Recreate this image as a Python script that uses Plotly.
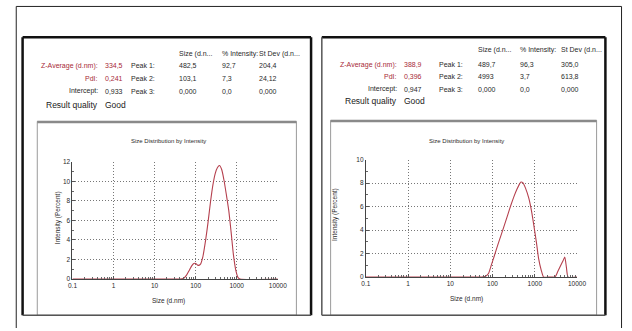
import plotly.graph_objects as go

W, H = 632, 331

# ---------------- data ----------------
sizes_a = [0.1, 1, 10, 40, 50, 60, 70, 80, 90, 100, 115, 130, 150, 175, 200, 230, 260,
           300, 340, 380, 430, 490, 560, 640, 730, 830, 950, 1080, 1200, 10000]
intensity_a = [0, 0, 0, 0, 0.05, 0.4, 0.9, 1.35, 1.6, 1.6, 1.4, 1.5, 2.3, 4.0, 5.8, 7.9, 9.5,
               10.8, 11.4, 11.6, 11.2, 10.1, 8.6, 7.0, 4.8, 2.5, 0.9, 0.15, 0, 0]

sizes_b = [0.1, 1, 10, 50, 60, 70, 80, 93, 110, 132, 160, 190, 229, 270, 324, 380, 430, 470,
           520, 600, 724, 850, 950, 1100, 1230, 1420, 1620, 2000, 2600, 3000, 3500, 4100,
           4700, 5130, 5600, 6170, 10000]
intensity_b = [0, 0, 0, 0, 0.02, 0.1, 0.3, 1.0, 1.8, 2.7, 3.6, 4.4, 5.3, 6.1, 6.9, 7.5, 7.9, 8.1,
               8.05, 7.6, 6.7, 5.5, 4.4, 2.9, 1.6, 0.6, 0, 0, 0, 0, 0.47, 0.98, 1.42, 1.7, 0.85, 0, 0]

x_tick_vals = [0.1, 1, 10, 100, 1000, 10000]
x_tick_text = ["0.1", "1", "10", "100", "1000", "10000"]
y_ticks_a = [0, 2, 4, 6, 8, 10, 12]
y_ticks_b = [0, 2, 4, 6, 8, 10]

header_cols = ["Size (d.n...", "% Intensity:", "St Dev (d.n..."]
peak_labels = ["Peak 1:", "Peak 2:", "Peak 3:"]
left_labels = ["Z-Average (d.nm):", "PdI:", "Intercept:"]

summary_a = ["334,5", "0,241", "0,933"]
peaks_a = [["482,5", "92,7", "204,4"], ["103,1", "7,3", "24,12"], ["0,000", "0,0", "0,000"]]
summary_b = ["388,9", "0,396", "0,947"]
peaks_b = [["489,7", "96,3", "305,0"], ["4993", "3,7", "613,8"], ["0,000", "0,0", "0,000"]]

chart_title = "Size Distribution by Intensity"
x_title = "Size (d.nm)"
y_title = "Intensity (Percent)"

# ---------------- helpers ----------------
def px(x):
    return x / W

def py(y):
    return 1 - y / H

RED = "#a82a38"
TXT = "#2a2a2a"
CURVE = "#b5404e"
FONT = "Liberation Sans Narrow, Liberation Sans, Arial, sans-serif"

fig = go.Figure()
fig.add_trace(go.Scatter(x=sizes_a, y=intensity_a, mode="lines", xaxis="x", yaxis="y",
                         line=dict(color=CURVE, width=1.1, shape="spline", smoothing=0.6),
                         showlegend=False, hoverinfo="skip"))
fig.add_trace(go.Scatter(x=sizes_b, y=intensity_b, mode="lines", xaxis="x2", yaxis="y2",
                         line=dict(color=CURVE, width=1.1, shape="spline", smoothing=0.6),
                         showlegend=False, hoverinfo="skip"))

minor_x = [m * 10 ** e for e in range(-1, 4) for m in range(2, 10)]

def xaxis(dom, anchor):
    return dict(type="log", domain=dom, anchor=anchor, range=[-1, 4.0005],
                tickmode="array", tickvals=x_tick_vals, ticktext=x_tick_text,
                ticks="inside", ticklen=3, tickcolor="#555", tickwidth=0.8,
                showline=True, linecolor="#444", linewidth=1,
                showgrid=True, gridcolor="#777", griddash="1px,2px", gridwidth=1,
                zeroline=False, tickfont=dict(family=FONT, size=6.5, color=TXT),
                minor=dict(tickmode="array", tickvals=minor_x, ticks="inside", ticklen=2,
                           tickcolor="#666", showgrid=False))

def yaxis(dom, anchor, top, ticks):
    return dict(domain=dom, anchor=anchor, range=[0, top * 1.0005],
                tickmode="array", tickvals=ticks,
                ticks="inside", ticklen=3, tickcolor="#555", tickwidth=0.8,
                showline=True, linecolor="#444", linewidth=1,
                showgrid=True, gridcolor="#777", griddash="1px,2px", gridwidth=1,
                zeroline=False, tickfont=dict(family=FONT, size=6.5, color=TXT),
                minor=dict(dtick=1, ticks="inside", ticklen=2, tickcolor="#666", showgrid=False))

fig.update_layout(
    width=W, height=H, margin=dict(l=0, r=0, t=0, b=0),
    paper_bgcolor="white", plot_bgcolor="white",
    xaxis=xaxis([px(69), px(279)], "y"),
    yaxis=yaxis([py(281), py(161)], "x", 12, y_ticks_a),
    xaxis2=xaxis([px(369), px(585)], "y2"),
    yaxis2=yaxis([py(279), py(159)], "x2", 10, y_ticks_b),
)

shapes = []
def rect(x0, y0, x1, y1, color, width):
    shapes.append(dict(type="rect", xref="paper", yref="paper",
                       x0=px(x0), x1=px(x1), y0=py(y1), y1=py(y0),
                       line=dict(color=color, width=width), fillcolor="rgba(0,0,0,0)"))

def line(x0, y0, x1, y1, color, width):
    shapes.append(dict(type="line", xref="paper", yref="paper",
                       x0=px(x0), x1=px(x1), y0=py(y0), y1=py(y1),
                       line=dict(color=color, width=width)))

# outer page border
line(11.5, 2.5, 630.5, 2.5, "#222", 1)
line(11.5, 2.5, 11.5, 331, "#222", 1)
line(630.5, 2.5, 630.5, 331, "#222", 1)
# chart frames
rect(33, 120, 298, 318, "#9a9a9a", 1)
line(33, 120.5, 298, 120.5, "#8a8a8a", 2.5)
rect(333, 119, 605, 318, "#9a9a9a", 1)
line(333, 119.5, 605, 119.5, "#8a8a8a", 2.5)
# panel borders (thick black left/top/right, grey bottom)
line(18, 34, 313, 34, "#111", 2.5)
line(18, 34, 18, 318, "#111", 2.5)
line(313, 34, 313, 318, "#111", 2.5)
line(18, 318, 313, 318, "#555", 1.5)
line(324, 34, 614, 34, "#111", 2.5)
line(324, 34, 324, 318, "#555", 1.5)
line(614, 34, 614, 318, "#111", 2.5)
line(324, 318, 614, 318, "#555", 1.5)
fig.update_layout(shapes=shapes)

ann = []
def text(x, y, s, anchor="left", color=TXT, size=7, angle=0, bold=False):
    ann.append(dict(xref="paper", yref="paper", x=px(x), y=py(y), text=("<b>%s</b>" % s) if bold else s,
                    showarrow=False, xanchor=anchor, yanchor="middle", textangle=angle,
                    font=dict(family=FONT, size=size, color=color)))

def panel(lab_x, val_x, peak_x, cols, rows_y, summary, peaks):
    hy, r1, r2, r3, r4 = rows_y
    for cx, h in zip(cols, header_cols):
        text(cx, hy, h)
    for i, ry in enumerate([r1, r2, r3]):
        col = RED if i < 2 else TXT
        text(lab_x, ry, left_labels[i], "right", col)
        text(val_x, ry, summary[i], "left", col)
        text(peak_x, ry, peak_labels[i], "right")
        for cx, v in zip(cols, peaks[i]):
            text(cx, ry, v)
    text(lab_x, r4, "Result quality", "right", "#1a1a1a", 8.5)
    text(val_x, r4, "Good", "left", "#1a1a1a", 8.5)

panel(97, 100, 155, [176, 220, 258], [51, 63, 76, 89, 103], summary_a, peaks_a)
panel(403, 406, 470, [482, 525, 567], [47, 62, 74, 87, 99], summary_b, peaks_b)

# chart titles and axis titles
text(167, 140, chart_title, "center", TXT, 6)
text(472, 140, chart_title, "center", TXT, 6)
text(167, 303, x_title, "center", TXT, 6.5)
text(472, 301, x_title, "center", TXT, 6.5)
text(55, 218, y_title, "center", TXT, 6.5, angle=-90)
text(338, 215, y_title, "center", TXT, 6.5, angle=-90)

fig.update_layout(annotations=ann)
fig.write_html("out.html", config={"displayModeBar": False},
               post_script="document.body.style.margin='0';document.body.style.overflow='hidden';")
